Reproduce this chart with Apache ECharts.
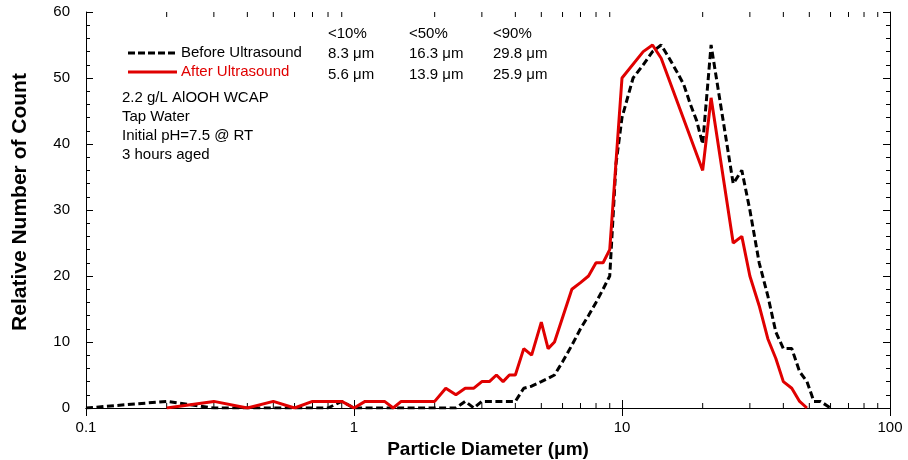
<!DOCTYPE html>
<html>
<head>
<meta charset="utf-8">
<script src="https://cdn.jsdelivr.net/npm/echarts@6/dist/echarts.min.js"></script>
<style>
html,body{margin:0;padding:0;background:#fff;}
#c{width:908px;height:460px;}
</style>
</head>
<body>
<div id="c"></div>
<script>
// ---- data ----
const beforeX = [0.1,0.2,0.3,0.4,0.5,0.6,0.7,0.8,0.9,1.0,1.2,1.5,2.0,2.4,2.6,2.8,3.0,3.2,3.4,3.6,3.8,4.0,4.3,4.6,5.0,5.3,5.6,6.0,6.5,7.0,7.5,8.0,8.5,9.0,9.5,10,11,12,13,14,15,16,17,18,19,20,21.5,26,28,30,32.5,35,37.5,40,43,46,49,52,55,60];
const beforeY = [0,1,0,0,0,0,0,0,1,0,0,0,0,0,1,0,1,1,1,1,1,1,3,3.3,4,4.5,5,7,9.5,12,14,16,18,20,37,44,50,52,54,55,53,51,49,46,43.5,40,55,34,36,30,22,17,11.5,9,9,5.5,4,1,1,0];
const afterX = [0.2,0.3,0.4,0.5,0.6,0.7,0.8,0.9,1.0,1.1,1.2,1.3,1.4,1.5,1.6,1.7,1.8,1.9,2.0,2.2,2.4,2.6,2.8,3.0,3.2,3.4,3.6,3.8,4.0,4.3,4.6,5.0,5.3,5.6,6.5,7.0,7.5,8.0,8.5,9.0,10,12,13,14,20,21.5,26,28,30,32.5,35,37.5,40,43,46,49];
const afterY = [0,1,0,1,0,1,1,1,0,1,1,1,0,1,1,1,1,1,1,3,2,3,3,4,4,5,4,5,5,9,8,13,9,10,18,19,20,22,22,24,50,54,55,53,36,47,25,26,20,15.5,10.5,7.5,4,3,1,0];
const seriesNames = ['Before Ultrasound','After Ultrasound'];
const xTickValues = [0.1,1,10,100];
const xMinorTicks = [0.2,0.3,0.4,0.5,0.6,0.7,0.8,0.9,2,3,4,5,6,7,8,9,20,30,40,50,60,70,80,90];
const tableHeaders = ['<10%','<50%','<90%'];
const beforeStats = ['8.3 μm','16.3 μm','29.8 μm'];
const afterStats = ['5.6 μm','13.9 μm','25.9 μm'];
const notes = ['2.2 g/L AlOOH WCAP','Tap Water','Initial pH=7.5 @ RT','3 hours aged'];
const xTitle = 'Particle Diameter (μm)';
const yTitle = 'Relative Number of Count';

// ---- chart ----
const FONT = 'Arial, "Liberation Sans", sans-serif';
const RED = '#e00000';
const chart = echarts.init(document.getElementById('c'), null, {renderer:'canvas'});
const zip = (xs, ys) => xs.map((x,i)=>[x, ys[i]]);

const axisCommon = {
  axisLine:{show:true, lineStyle:{color:'#000', width:1}},
  splitLine:{show:false}
};

const graphics = [];
const colX = [328, 409, 493];
const addText = (x, y, s, color) => graphics.push({type:'text', x:x, y:y, style:{text:s, fill:color||'#000', font:'15px '+FONT, verticalAlign:'middle'}});
tableHeaders.forEach((s,i)=>addText(colX[i], 34, s));
beforeStats.forEach((s,i)=>addText(colX[i], 54, s));
afterStats.forEach((s,i)=>addText(colX[i], 75, s));
notes.forEach((s,i)=>addText(122, 98 + i*19, s));
// legend
graphics.push({type:'line', shape:{x1:128,y1:53,x2:177,y2:53}, style:{stroke:'#000', lineWidth:3, lineDash:[7,3]}});
addText(181, 53, seriesNames[0]);
graphics.push({type:'line', shape:{x1:128,y1:72,x2:177,y2:72}, style:{stroke:RED, lineWidth:3}});
addText(181, 72, seriesNames[1], RED);

const option = {
  animation:false,
  backgroundColor:'#fff',
  grid:{left:86, right:18, top:12, bottom:52, containLabel:false, outerBoundsMode:'none'},
  xAxis:[
    Object.assign({}, axisCommon, {
      type:'log', logBase:10, min:0.1, max:100, position:'bottom',
      axisTick:{show:true, inside:true, length:8, lineStyle:{color:'#000'}},
      axisLabel:{show:true, color:'#000', fontSize:15, fontFamily:FONT, margin:12,
        formatter:(v)=>{ const r = xTickValues.find(t=>Math.abs(t-v)/t<1e-6); return r===undefined? '' : String(r);} },
      name:xTitle, nameLocation:'middle', nameGap:28,
      nameTextStyle:{color:'#000', fontSize:19, fontWeight:'bold', fontFamily:FONT}
    }),
    Object.assign({}, axisCommon, {
      type:'log', logBase:10, min:0.1, max:100, position:'top',
      axisTick:{show:true, inside:true, length:8, lineStyle:{color:'#000'}},
      axisLabel:{show:false}
    })
  ],
  yAxis:[
    Object.assign({}, axisCommon, {
      type:'value', min:0, max:60, interval:10, position:'left',
      axisTick:{show:true, inside:true, length:7, lineStyle:{color:'#000'}},
      minorTick:{show:true, splitNumber:5, length:4, lineStyle:{color:'#000'}},
      minorSplitLine:{show:false},
      axisLabel:{show:true, color:'#000', fontSize:15, fontFamily:FONT, margin:16},
      name:yTitle, nameLocation:'middle', nameGap:55, nameRotate:90,
      nameTextStyle:{color:'#000', fontSize:21, fontWeight:'bold', fontFamily:FONT, padding:[0,0,0,16]}
    }),
    Object.assign({}, axisCommon, {
      type:'value', min:0, max:60, interval:10, position:'right',
      axisTick:{show:true, inside:true, length:7, lineStyle:{color:'#000'}},
      minorTick:{show:true, splitNumber:5, length:4, lineStyle:{color:'#000'}},
      axisLabel:{show:false}
    })
  ],
  graphic:graphics,
  series:[
    {
      type:'custom', name:'minorTicks', xAxisIndex:0, yAxisIndex:0, silent:true, clip:false, z:1,
      data:xMinorTicks.map(v=>[v,0]),
      renderItem:(params, api)=>{
        const v = api.value(0);
        const b = api.coord([v,0]);
        const t = api.coord([v,60]);
        return {type:'group', children:[
          {type:'line', shape:{x1:b[0],y1:b[1],x2:b[0],y2:b[1]-5}, style:{stroke:'#000', lineWidth:1}},
          {type:'line', shape:{x1:t[0],y1:t[1],x2:t[0],y2:t[1]+5}, style:{stroke:'#000', lineWidth:1}}
        ]};
      }
    },
    {
      type:'line', name:seriesNames[0], data:zip(beforeX, beforeY), symbol:'none', z:3,
      lineStyle:{color:'#000', width:3, type:[7,3.5]}
    },
    {
      type:'line', name:seriesNames[1], data:zip(afterX, afterY), symbol:'none', z:4,
      lineStyle:{color:RED, width:3}
    }
  ]
};
chart.setOption(option);
</script>
</body>
</html>
